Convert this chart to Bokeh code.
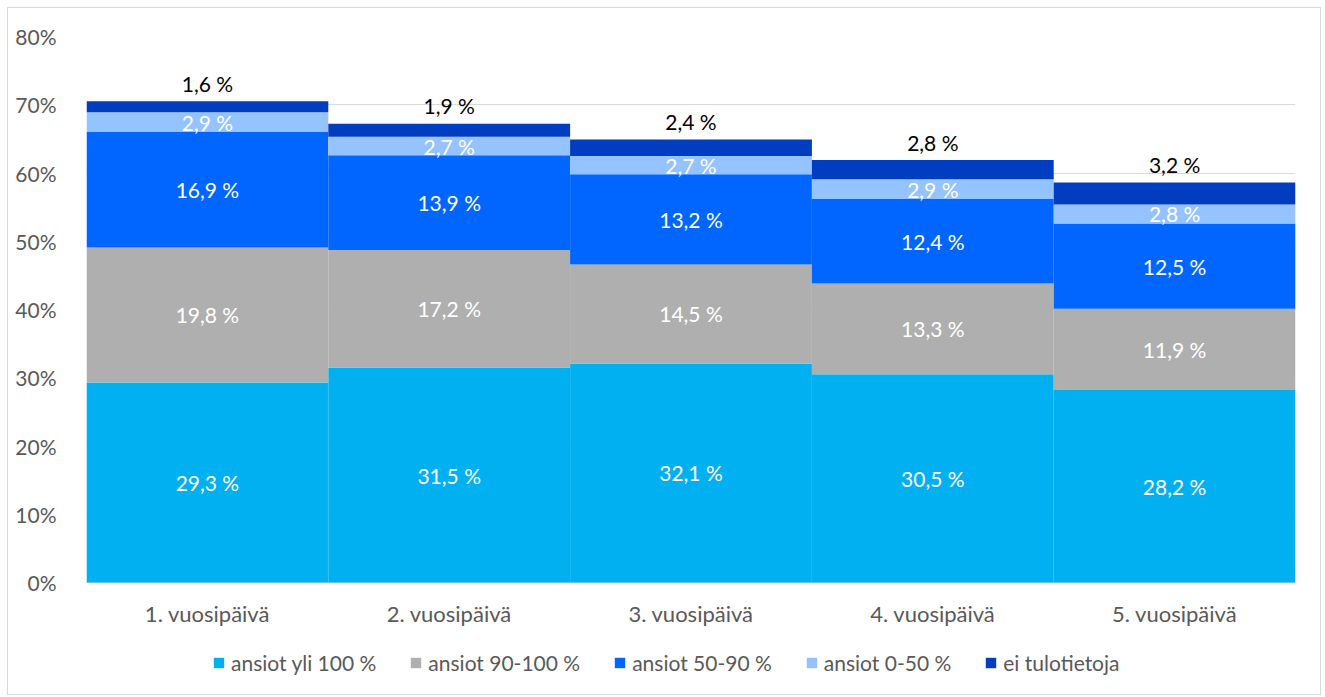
from bokeh.plotting import figure
from bokeh.models import ColumnDataSource, FactorRange, FixedTicker, Legend, LegendItem, Range1d
from bokeh.embed import file_html
from bokeh.resources import INLINE
from bokeh.core.properties import value

categories = ["1. vuosipäivä", "2. vuosipäivä", "3. vuosipäivä", "4. vuosipäivä", "5. vuosipäivä"]
series_names = ["ansiot yli 100 %", "ansiot 90-100 %", "ansiot 50-90 %", "ansiot 0-50 %", "ei tulotietoja"]
over_100 = [29.3, 31.5, 32.1, 30.5, 28.2]
r90_100 = [19.8, 17.2, 14.5, 13.3, 11.9]
r50_90 = [16.9, 13.9, 13.2, 12.4, 12.5]
r0_50 = [2.9, 2.7, 2.7, 2.9, 2.8]
no_info = [1.6, 1.9, 2.4, 2.8, 3.2]
colors = ["#00B0F0", "#AFAFAF", "#0066FF", "#94C3FF", "#003DC0"]
y_ticks = [0, 10, 20, 30, 40, 50, 60, 70, 80]

FONT = "Lato"
FS = "21px"
GRAY = "#595959"
series = [over_100, r90_100, r50_90, r0_50, no_info]
keys = ["s0", "s1", "s2", "s3", "s4"]
data = {"cat": categories}
for k, s in zip(keys, series):
    data[k] = s
src = ColumnDataSource(data)

# frame: top at 80 %, value 0 at 546 px below it; frame extended downward to hold category labels and legend
px_per_unit = 546 / 80.0
frame_h = 658
y_start = 80 - frame_h / px_per_unit

p = figure(x_range=FactorRange(*categories, range_padding=0), y_range=Range1d(y_start, 80),
           width=1314, height=688, output_backend="svg", toolbar_location=None,
           min_border_left=78, min_border_right=27, min_border_top=28, min_border_bottom=2)
p.styles = {"border": "1px solid #D9D9D9", "margin": "7px 0 0 7px"}

renderers = p.vbar_stack(keys, x="cat", width=1.0, color=colors, line_color=None, source=src)

# data labels
lx, ly, lt = [], [], []
tx, ty, tt = [], [], []
for i, c in enumerate(categories):
    base = 0.0
    for j, s in enumerate(series):
        v = s[i]
        txt = ("%.1f" % v).replace(".", ",") + " %"
        if j < 4:
            lx.append(c); ly.append(base + v / 2); lt.append(txt)
        else:
            tx.append(c); ty.append(base + v); tt.append(txt)
        base += v
p.text(x=lx, y=ly, text=lt, text_color="white", text_font=value(FONT), text_font_size=FS,
       text_align="center", text_baseline="middle")
p.text(x=tx, y=ty, text=tt, text_color="black", text_font=value(FONT), text_font_size=FS,
       text_align="center", text_baseline="middle", y_offset=-18)

# category labels under the bars
p.text(x=categories, y=[0] * len(categories), text=categories, text_color=GRAY,
       text_font=value(FONT), text_font_size="22px", text_align="center",
       text_baseline="middle", y_offset=31)

p.outline_line_color = None
p.xaxis.visible = False
p.xgrid.grid_line_color = None
p.ygrid.grid_line_color = "#D9D9D9"
p.ygrid.grid_line_width = 1
p.yaxis.ticker = FixedTicker(ticks=y_ticks)
p.yaxis.major_label_overrides = {t: "%d%%" % t for t in y_ticks}
p.yaxis.major_tick_line_color = None
p.yaxis.minor_tick_line_color = None
p.yaxis.major_label_text_font = FONT
p.yaxis.major_label_text_font_size = FS
p.yaxis.major_label_text_color = GRAY
p.yaxis.axis_line_color = None
p.yaxis.major_label_standoff = 24

legend = Legend(items=[LegendItem(label=n, renderers=[r]) for n, r in zip(series_names, renderers)],
                orientation="horizontal", location=(126, 19), border_line_color=None,
                label_text_font=FONT, label_text_font_size=FS, label_text_color=GRAY,
                glyph_width=13, glyph_height=13, label_standoff=6, spacing=33, padding=0,
                margin=0, background_fill_alpha=0)
p.add_layout(legend, "center")

open("out.html", "w").write(file_html(p, INLINE))
